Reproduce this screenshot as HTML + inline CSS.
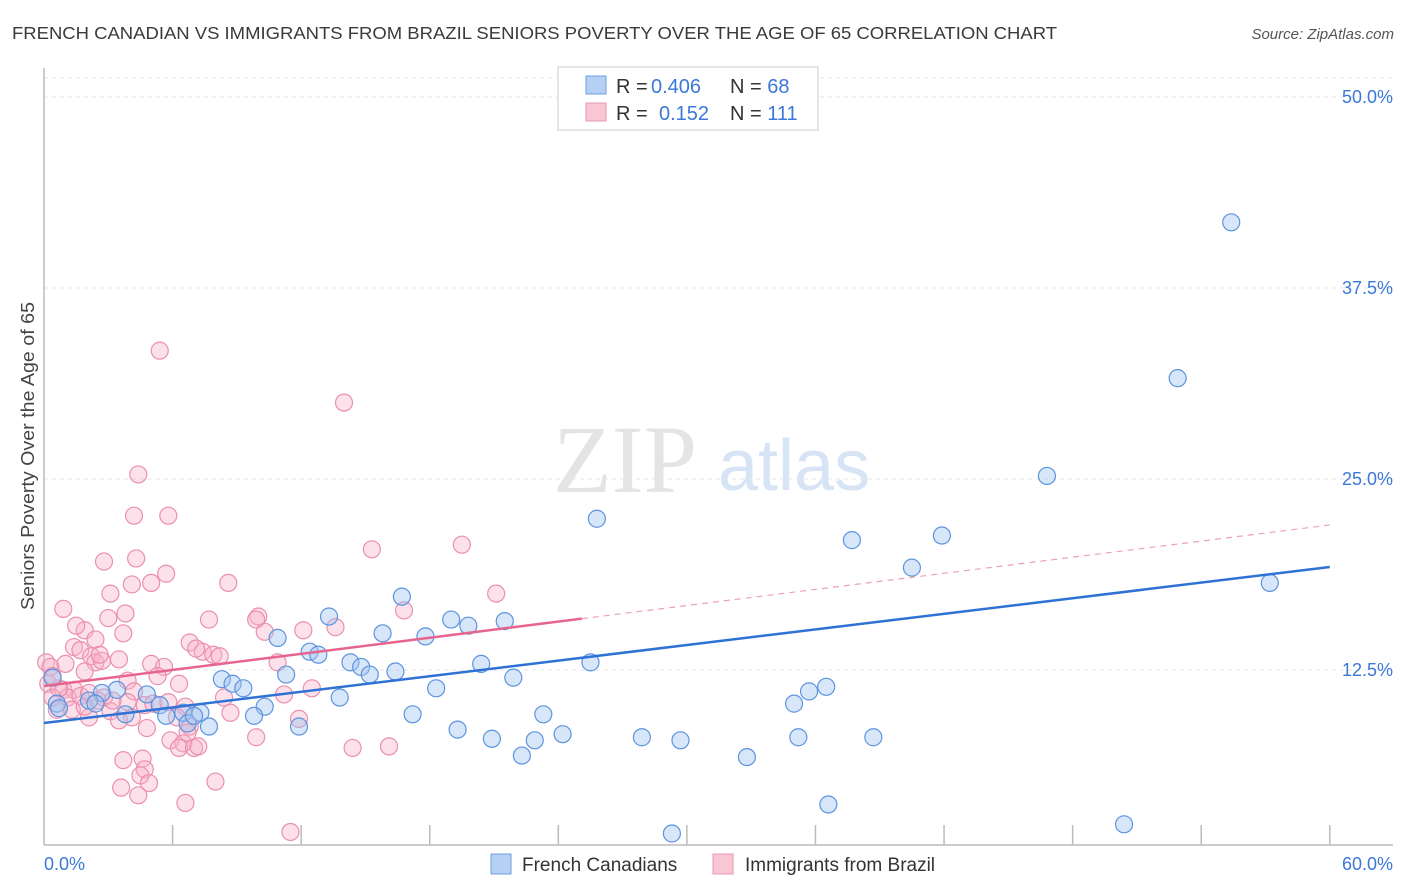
<!DOCTYPE html>
<html><head><meta charset="utf-8"><style>
body{margin:0;background:#fff;font-family:"Liberation Sans",sans-serif}
svg{display:block}
</style></head><body>
<svg id="chart" width="1406" height="892" font-family="Liberation Sans, sans-serif">
<text x="12" y="39" font-size="17.5" fill="#3a3a3a" textLength="1045" lengthAdjust="spacingAndGlyphs">FRENCH CANADIAN VS IMMIGRANTS FROM BRAZIL SENIORS POVERTY OVER THE AGE OF 65 CORRELATION CHART</text>
<text x="1394" y="39" font-size="15" fill="#555" font-style="italic" text-anchor="end">Source: ZipAtlas.com</text>
<text x="34" y="456" font-size="18" fill="#444" text-anchor="middle" textLength="308" lengthAdjust="spacingAndGlyphs" transform="rotate(-90 34 456)">Seniors Poverty Over the Age of 65</text>
<g>
<text x="553" y="492" font-size="96" font-family="Liberation Serif, serif" fill="#e4e4e4">ZIP</text>
<text x="718" y="490" font-size="72" fill="#d6e4f6">atlas</text>
</g>
<g id="grid"></g>
<g id="axes"></g>
<g id="pinkPts"></g>
<g id="bluePts"></g>
<g id="lines"></g>
<g>
<rect x="558" y="67" width="260" height="63" fill="#fff" stroke="#ccc"/>
<rect x="586" y="76" width="20" height="18" fill="#b6d0f3" stroke="#6d9fe0"/>
<rect x="586" y="103" width="20" height="18" fill="#f8c6d5" stroke="#e997b0"/>
<text x="616" y="93" font-size="20" fill="#333">R = <tspan x="651" fill="#3b78d8">0.406</tspan><tspan x="730">N = </tspan><tspan fill="#3b78d8">68</tspan></text>
<text x="616" y="120" font-size="20" fill="#333">R = <tspan x="659" fill="#3b78d8">0.152</tspan><tspan x="730">N = </tspan><tspan fill="#3b78d8">111</tspan></text>
</g>
<g>
<rect x="491" y="854" width="20" height="20" fill="#b6d0f3" stroke="#6d9fe0"/>
<text x="522" y="871" font-size="19" fill="#333">French Canadians</text>
<rect x="713" y="854" width="20" height="20" fill="#f8c6d5" stroke="#e997b0"/>
<text x="745" y="871" font-size="19" fill="#333">Immigrants from Brazil</text>
</g>
</svg>
<script>
const yTicks=[12.5,25,37.5,50];
const yTickLabels=["12.5%","25.0%","37.5%","50.0%"];
const xTickVals=[6,12,18,24,30,36,42,48,54,60];
const blueX=[55.4,52.9,46.8,25.8,37.7,41.9,40.5,57.2,16.7,13.3,19.0,21.5,19.8,15.8,17.8,10.9,12.4,12.8,14.3,14.8,15.2,20.4,25.5,16.4,8.3,8.8,11.3,21.9,18.3,9.3,36.5,35.7,13.8,4.8,3.4,2.7,2.1,0.6,0.4,3.8,5.4,5.7,6.5,7.3,7.7,10.3,9.8,11.9,17.2,19.3,23.3,35.0,20.9,22.9,24.2,27.9,29.7,35.2,38.7,22.3,32.8,36.6,29.3,50.4,6.7,0.7,7.0,2.4];
const blueY=[41.8,31.6,25.2,22.4,21.0,21.3,19.2,18.2,17.3,16.0,15.8,15.7,15.4,14.9,14.7,14.6,13.7,13.5,13.0,12.7,12.2,12.9,13.0,12.4,11.9,11.6,12.2,12.0,11.3,11.3,11.4,11.1,10.7,10.9,11.2,11.0,10.5,10.3,12.0,9.6,10.2,9.5,9.7,9.7,8.8,10.1,9.5,8.8,9.6,8.6,9.6,10.3,8.0,7.9,8.3,8.1,7.9,8.1,8.1,6.9,6.8,3.7,1.8,2.4,9.0,10.0,9.5,10.3];
const pinkX=[5.4,14.0,4.4,4.2,5.8,19.5,15.3,2.8,4.3,5.7,4.1,5.0,8.6,21.1,3.1,0.9,3.8,7.7,10.0,9.9,16.8,3.0,3.7,1.9,12.1,13.6,10.3,6.8,1.4,1.7,2.2,2.4,2.7,7.4,7.9,8.2,10.9,5.0,5.6,0.1,0.3,1.0,1.9,5.3,3.9,6.3,0.2,0.9,1.4,0.4,1.1,1.7,2.5,2.8,4.2,3.9,0.6,1.3,3.1,4.7,5.1,5.8,6.6,8.4,11.2,12.5,4.1,3.5,2.1,1.9,6.2,6.8,4.8,11.9,8.7,5.9,6.5,6.7,6.3,7.0,7.2,9.9,4.6,3.7,4.7,4.5,4.9,3.6,4.4,8.0,6.6,11.5,14.4,16.1,2.6,2.4,3.5,1.5,7.1,3.2,0.7,0.4,2.1];
const pinkY=[33.4,30.0,25.3,22.6,22.6,20.7,20.4,19.6,19.8,18.8,18.1,18.2,18.2,17.5,17.5,16.5,16.2,15.8,16.0,15.8,16.4,15.9,14.9,15.1,15.1,15.3,15.0,14.3,14.0,13.8,13.4,13.0,13.1,13.7,13.5,13.4,13.0,12.9,12.7,13.0,12.7,12.9,12.4,12.1,11.8,11.6,11.6,11.2,11.2,10.7,10.7,10.8,10.5,10.7,11.1,10.4,9.9,9.9,9.8,10.2,10.3,10.4,10.1,10.7,10.9,11.3,9.4,9.2,9.4,10.1,9.4,8.8,8.7,9.3,9.7,7.9,7.7,8.4,7.4,7.4,7.5,8.1,6.7,6.6,6.0,5.6,5.1,4.8,4.3,5.2,3.8,1.9,7.4,7.5,13.5,14.5,13.2,15.4,13.9,10.5,11.3,12.1,11.0];
const blueTrend=[9.03,19.24];
const pinkTrend=[11.45,21.99];
const pinkSolidEnd=25.1;

const NS="http://www.w3.org/2000/svg";
const X=v=>44+v*21.43;
const Y=v=>861-v*15.28;
function mk(parent,tag,attrs){const e=document.createElementNS(NS,tag);for(const k in attrs)e.setAttribute(k,attrs[k]);document.getElementById(parent).appendChild(e);return e;}

let g=mk('grid','line',{x1:44,x2:1393,y1:78,y2:78,stroke:'#e6e6e6','stroke-dasharray':'4,4'});


yTicks.forEach((t,i)=>{
  const l=mk('grid','line',{x1:44,x2:1393,y1:Y(t),y2:Y(t),stroke:'#e6e6e6','stroke-dasharray':'4,4'});
  
  
  const tx=mk('grid','text',{x:1393,y:Y(t)+6,'font-size':18,fill:'#3b78d8','text-anchor':'end'});
  tx.textContent=yTickLabels[i];
  
  
});
let a=mk('axes','line',{x1:44,x2:44,y1:68,y2:845,stroke:'#bbb','stroke-width':1.5});


a=mk('axes','line',{x1:44,x2:1393,y1:845,y2:845,stroke:'#bbb','stroke-width':1.5});


xTickVals.forEach(t=>{
  const l=mk('axes','line',{x1:X(t),x2:X(t),y1:825,y2:845,stroke:'#bbb','stroke-width':1.5});
  
  
});
let t0=mk('axes','text',{x:44,y:870,'font-size':18,fill:'#3b78d8'});t0.textContent='0.0%';


let t1=mk('axes','text',{x:1393,y:870,'font-size':18,fill:'#3b78d8','text-anchor':'end'});t1.textContent='60.0%';



pinkX.forEach((v,i)=>{
  const c=mk('pinkPts','circle',{cx:X(v),cy:Y(pinkY[i]),r:8.5,fill:'rgba(246,176,199,0.38)',stroke:'#eb8fae','stroke-width':1.2});
  
  
});
blueX.forEach((v,i)=>{
  const c=mk('bluePts','circle',{cx:X(v),cy:Y(blueY[i]),r:8.5,fill:'rgba(160,196,240,0.42)',stroke:'#5d94de','stroke-width':1.2});
  
  
});
let bl=mk('lines','line',{x1:X(0),y1:Y(blueTrend[0]),x2:X(60),y2:Y(blueTrend[1]),stroke:'#2f72d6','stroke-width':2.5});


const pAt=x=>pinkTrend[0]+(pinkTrend[1]-pinkTrend[0])*x/60;
let pl=mk('lines','line',{x1:X(0),y1:Y(pinkTrend[0]),x2:X(pinkSolidEnd),y2:Y(pAt(pinkSolidEnd)),stroke:'#e7648f','stroke-width':2.5});


let pd=mk('lines','line',{x1:X(pinkSolidEnd),y1:Y(pAt(pinkSolidEnd)),x2:X(60),y2:Y(pinkTrend[1]),stroke:'#eea0b8','stroke-width':1.2,'stroke-dasharray':'6,5'});


</script>
</body></html>
